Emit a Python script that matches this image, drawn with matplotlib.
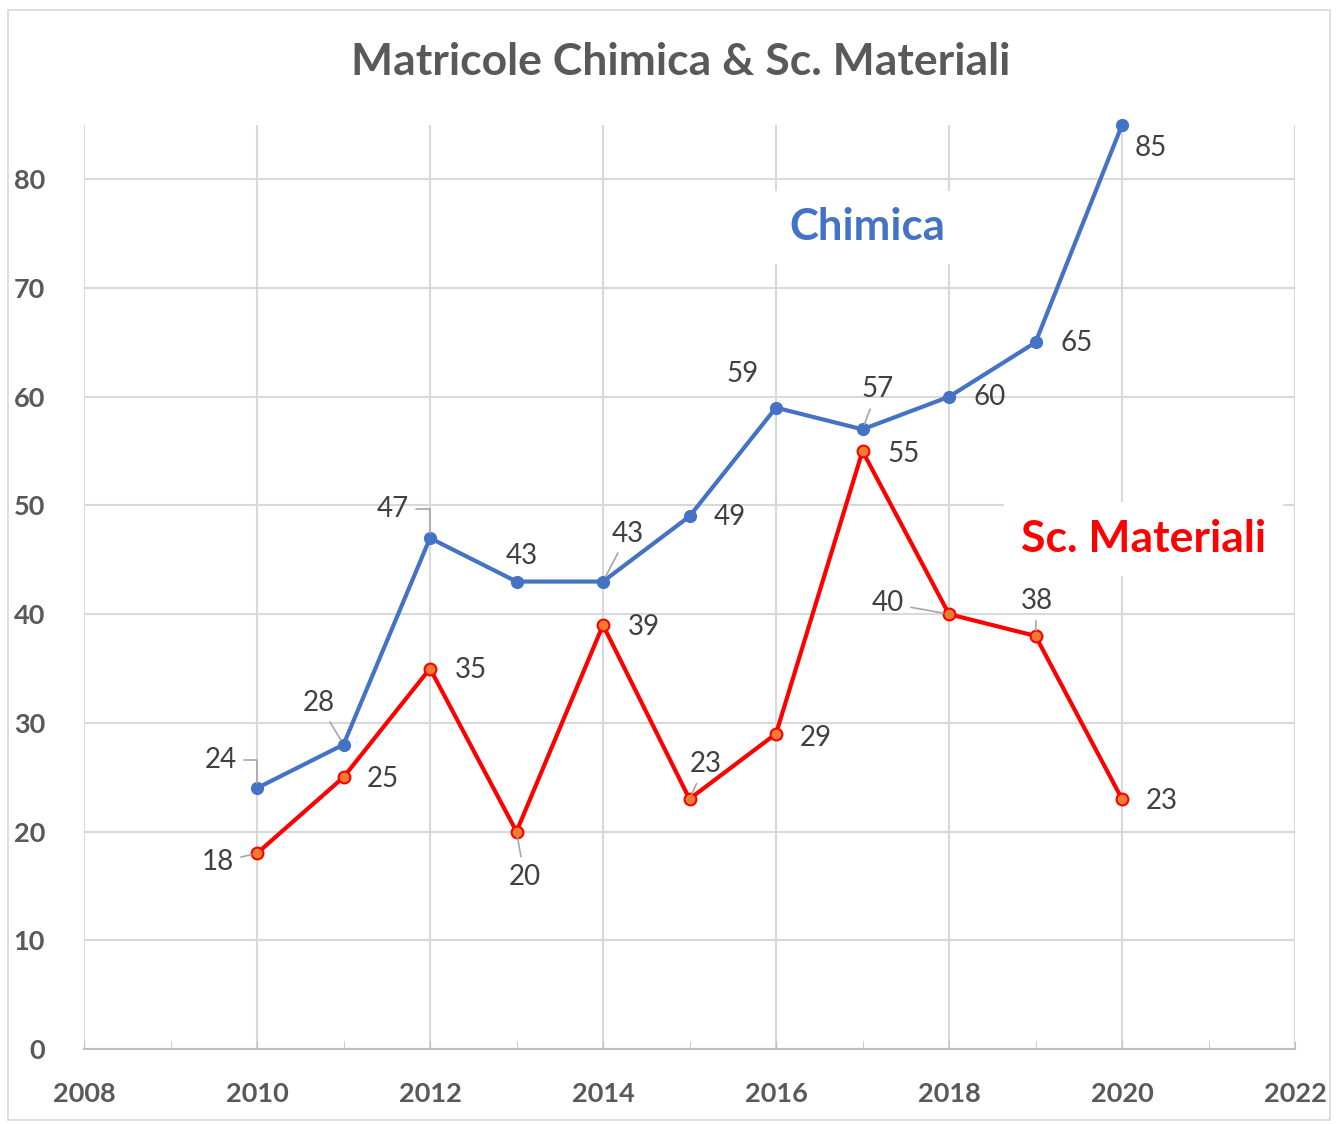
import matplotlib
matplotlib.use("Agg")
import matplotlib.pyplot as plt
from matplotlib.patches import Rectangle

plt.rcParams["font.family"] = ["Lato", "DejaVu Sans"]

years = [2010, 2011, 2012, 2013, 2014, 2015, 2016, 2017, 2018, 2019, 2020]
chimica = [24, 28, 47, 43, 43, 49, 59, 57, 60, 65, 85]
materiali = [18, 25, 35, 20, 39, 23, 29, 55, 40, 38, 23]

# label offsets in pixels (dx, dy) and the kind of leader line
chim_off = [(-36, 28), (-25, 42), (-37, 29), (5, 26), (25, 48), (40, -1),
            (-33, 34), (15, 40), (41, 0), (41, -1), (29, -23)]
chim_lead = ["angle", "line", "angle", None, "line", None, None, "line", None, None, None]
mat_off = [(-39, -9), (39, -2), (41, -1), (8, -45), (41, -2), (16, 35),
           (40, -4), (41, -3), (-61, 11), (1, 35), (40, -2)]
mat_lead = ["line", None, None, "line", None, "line", None, None, "line", "line", None]

BLUE = "#4472C4"
RED = "#FF0000"
ORANGE = "#ED7D31"
GRID = "#D9D9D9"
TXT = "#404040"
TICK = "#595959"

fig = plt.figure(figsize=(13.4, 11.24), dpi=100)
fig.patches.append(Rectangle((8 / 1340, 1 - 1120 / 1124), 1322 / 1340, 1110 / 1124,
                             transform=fig.transFigure, fill=False,
                             edgecolor=GRID, linewidth=1.2))
ax = fig.add_axes([84 / 1340, 1 - 1049 / 1124, (1295 - 84) / 1340, (1049 - 125) / 1124])

ax.plot(years, chimica, color=BLUE, lw=3, marker="o", ms=8.5,
        mfc=BLUE, mec=BLUE, zorder=3, clip_on=False)
ax.plot(years, materiali, color=RED, lw=3, marker="o", ms=8.5,
        mfc=ORANGE, mec=RED, mew=1.5, zorder=3, clip_on=False)


def label(xs, ys, offs, leads):
    for x, y, (dx, dy), lead in zip(xs, ys, offs, leads):
        kw = {}
        if lead == "angle":
            kw["arrowprops"] = dict(arrowstyle="-", color="#A6A6A6", lw=1.2,
                                    shrinkA=3, shrinkB=4,
                                    connectionstyle="angle,angleA=0,angleB=90,rad=0")
        elif lead == "line":
            kw["arrowprops"] = dict(arrowstyle="-", color="#A6A6A6", lw=1.2,
                                    shrinkA=3, shrinkB=4)
        ax.annotate(str(y), (x, y), xytext=(dx, dy), textcoords="offset pixels",
                    ha="center", va="center", fontsize=20, color=TXT, zorder=4,
                    annotation_clip=False, **kw)


label(years, chimica, chim_off, chim_lead)
label(years, materiali, mat_off, mat_lead)

ax.set_xlim(2008, 2022)
ax.set_ylim(0, 85)
ax.set_xticks(range(2008, 2023, 2))
ax.set_xticks(range(2009, 2022, 2), minor=True)
ax.set_yticks(range(0, 81, 10))
ax.grid(True, which="major", color=GRID, lw=1.5, zorder=0)
ax.set_axisbelow(True)
for s in ["left", "right", "top"]:
    ax.spines[s].set_visible(False)
ax.spines["bottom"].set_color("#BFBFBF")
ax.spines["bottom"].set_linewidth(1.5)
ax.tick_params(axis="x", which="both", direction="in", length=6, color="#BFBFBF",
               labelsize=19.5, labelcolor=TICK, pad=24)
ax.tick_params(axis="y", length=0, labelsize=19.5, labelcolor=TICK, pad=28)
for t in ax.get_xticklabels() + ax.get_yticklabels():
    t.set_fontweight("bold")

fig.text(681 / 1340, 1 - 62 / 1124, "Matricole Chimica & Sc. Materiali",
         ha="center", va="center", fontsize=32, fontweight="bold", color=TICK)

ax.text(2017.05, 75.6, "Chimica", ha="center", va="center", fontsize=31.5,
        fontweight="bold", color=BLUE, zorder=2,
        bbox=dict(facecolor="white", edgecolor="none", pad=12))
ax.text(2020.25, 46.9, "Sc. Materiali", ha="center", va="center", fontsize=32,
        fontweight="bold", color=RED, zorder=2,
        bbox=dict(facecolor="white", edgecolor="none", pad=12))

fig.savefig("out.png", dpi=100)
